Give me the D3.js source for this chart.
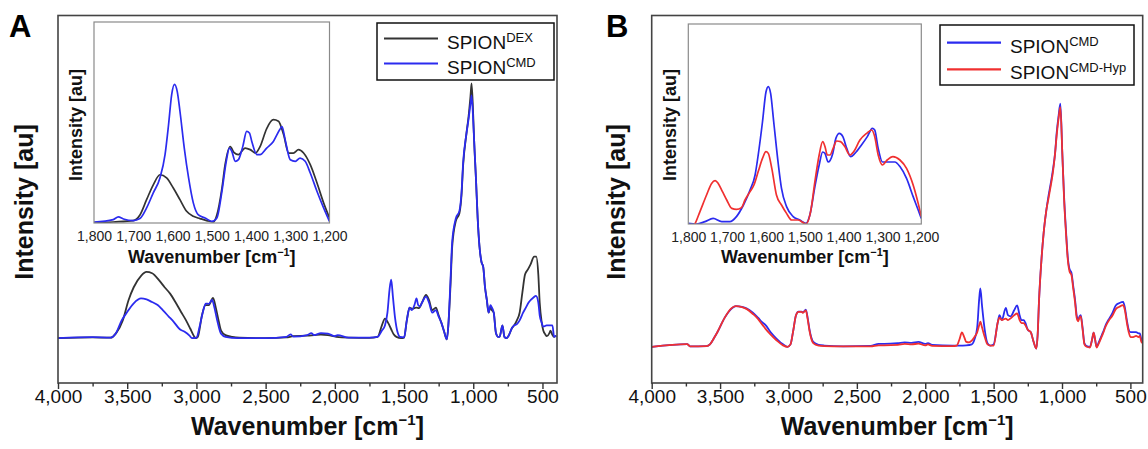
<!DOCTYPE html>
<html>
<head>
<meta charset="utf-8">
<script src="https://cdn.jsdelivr.net/npm/d3@7"></script>
<style>
  body { margin: 0; background: #fff; }
  svg { display: block; font-family: "Liberation Sans", Arial, sans-serif; }
</style>
</head>
<body>
<svg id="chart" width="1148" height="449"></svg>
<script>
// ---- data: [wavenumber cm-1, intensity au] ----
const majorTicks = [4000, 3500, 3000, 2500, 2000, 1500, 1000, 500];
const minorTicks = [3750, 3250, 2750, 2250, 1750, 1250, 750];
const insetTicks = [1800, 1700, 1600, 1500, 1400, 1300, 1200];

const dexA = [[4000,0],[3750,0.003],[3620,0.002],[3580,0.02],[3532,0.07],[3490,0.15],[3453,0.2],[3400,0.245],[3361,0.26],[3320,0.255],[3269,0.227],[3230,0.2],[3190,0.175],[3150,0.14],[3111,0.103],[3075,0.07],[3045,0.038],[3020,0.01],[3006,0],[2990,0.005],[2960,0.09],[2935,0.13],[2910,0.13],[2880,0.158],[2860,0.12],[2840,0.07],[2822,0.03],[2790,0.012],[2740,0.005],[2690,0.002],[2500,0],[2350,0.003],[2300,0.008],[2200,0.01],[2150,0.012],[2100,0.014],[2050,0.012],[1990,0.005],[1900,0.002],[1750,0.001],[1691,0.005],[1660,0.05],[1638,0.077],[1615,0.06],[1593,0.035],[1575,0.015],[1555,0.005],[1520,0],[1500,0.002],[1480,0.07],[1460,0.12],[1440,0.115],[1425,0.118],[1410,0.12],[1392,0.118],[1370,0.14],[1341,0.17],[1320,0.15],[1296,0.11],[1270,0.12],[1250,0.09],[1230,0.06],[1210,0.025],[1191,-0.005],[1180,0.05],[1165,0.2],[1152,0.36],[1126,0.46],[1100,0.49],[1085,0.56],[1073,0.68],[1050,0.8],[1034,0.87],[1020,0.95],[1012,1.0],[1000,0.87],[994,0.78],[980,0.62],[968,0.47],[955,0.36],[941,0.3],[928,0.28],[915,0.2],[902,0.15],[889,0.1],[876,0.12],[865,0.11],[852,0.1],[836,0.02],[820,0.005],[810,0.005],[789,0.05],[775,0.005],[760,0],[744,0.01],[720,0.04],[705,0.05],[685,0.07],[665,0.1],[645,0.18],[626,0.25],[605,0.27],[586,0.29],[560,0.32],[545,0.32],[530,0.25],[520,0.14],[505,0.06],[494,0.03],[480,0.015],[468,0.008],[450,0.02],[442,0.03],[430,0.015],[416,0.005],[400,0.01]];

const cmdA = [[4000,0],[3750,0.004],[3620,0.002],[3584,0.017],[3540,0.07],[3506,0.098],[3453,0.137],[3400,0.156],[3360,0.152],[3321,0.142],[3280,0.13],[3243,0.11],[3200,0.085],[3164,0.064],[3120,0.035],[3085,0.025],[3050,0.01],[3032,0],[3000,0.002],[2975,0.05],[2950,0.11],[2932,0.136],[2910,0.135],[2887,0.15],[2870,0.12],[2850,0.07],[2822,0.017],[2790,0.005],[2700,0],[2500,0],[2350,0.005],[2320,0.015],[2300,0.006],[2200,0.012],[2170,0.02],[2150,0.012],[2100,0.02],[2050,0.018],[2000,0.008],[1980,0.012],[1900,0.002],[1750,0.002],[1691,0.005],[1660,0.03],[1638,0.05],[1620,0.1],[1605,0.19],[1593,0.23],[1580,0.16],[1565,0.08],[1545,0.02],[1530,0.005],[1500,0.003],[1480,0.07],[1460,0.12],[1445,0.11],[1425,0.13],[1410,0.156],[1398,0.13],[1385,0.125],[1370,0.14],[1341,0.163],[1320,0.14],[1296,0.1],[1270,0.11],[1250,0.085],[1230,0.06],[1210,0.025],[1191,-0.005],[1180,0.05],[1165,0.22],[1152,0.38],[1126,0.47],[1100,0.5],[1085,0.57],[1073,0.69],[1050,0.8],[1034,0.86],[1020,0.92],[1012,0.953],[1000,0.85],[994,0.78],[980,0.62],[968,0.47],[955,0.36],[941,0.3],[928,0.28],[915,0.2],[902,0.15],[889,0.1],[876,0.13],[865,0.12],[852,0.1],[836,0.02],[820,0.005],[810,0.005],[789,0.05],[775,0.005],[760,0],[744,0.01],[720,0.04],[705,0.05],[685,0.055],[665,0.07],[640,0.1],[620,0.12],[600,0.14],[565,0.16],[547,0.166],[530,0.14],[520,0.09],[505,0.06],[494,0.045],[470,0.05],[440,0.05],[428,0.05],[416,0.005],[400,0.01]];

const cmdB = [[4000,0],[3741,0.011],[3720,0.002],[3600,0.003],[3574,0.01],[3540,0.04],[3520,0.06],[3466,0.12],[3420,0.155],[3385,0.167],[3340,0.164],[3304,0.157],[3260,0.14],[3223,0.12],[3190,0.1],[3169,0.09],[3130,0.06],[3088,0.034],[3040,0.01],[3007,0],[2985,0.01],[2967,0.06],[2945,0.13],[2927,0.145],[2905,0.145],[2894,0.142],[2873,0.153],[2860,0.12],[2846,0.07],[2819,0.02],[2780,0.008],[2738,0.005],[2600,0.002],[2400,0.004],[2340,0.012],[2300,0.012],[2200,0.015],[2150,0.018],[2100,0.016],[2050,0.02],[2000,0.012],[1980,0.015],[1950,0.008],[1800,0.005],[1750,0.005],[1700,0.006],[1660,0.01],[1640,0.03],[1620,0.08],[1605,0.2],[1597,0.24],[1585,0.17],[1565,0.07],[1545,0.015],[1524,0.005],[1500,0.01],[1470,0.1],[1457,0.13],[1440,0.11],[1411,0.16],[1395,0.13],[1376,0.125],[1350,0.15],[1328,0.17],[1310,0.13],[1296,0.11],[1280,0.11],[1269,0.1],[1250,0.07],[1228,0.06],[1210,0.025],[1188,-0.007],[1178,0.05],[1168,0.19],[1150,0.36],[1134,0.47],[1115,0.56],[1099,0.62],[1080,0.68],[1066,0.73],[1050,0.8],[1039,0.88],[1025,0.95],[1012,1.0],[998,0.8],[985,0.62],[970,0.47],[958,0.37],[945,0.32],[931,0.305],[918,0.25],[904,0.19],[893,0.13],[882,0.11],[872,0.125],[863,0.13],[850,0.08],[836,0.014],[820,0.003],[796,0],[780,0.03],[769,0.058],[758,0.03],[747,0],[730,0.02],[715,0.04],[700,0.06],[680,0.09],[661,0.11],[630,0.14],[607,0.17],[580,0.18],[553,0.185],[540,0.16],[526,0.11],[512,0.07],[499,0.06],[480,0.06],[458,0.06],[440,0.055],[431,0.055],[420,0.03],[410,0.02]];

const hypB = [[4000,0],[3741,0.011],[3720,0.002],[3600,0.003],[3574,0.01],[3540,0.04],[3520,0.06],[3466,0.12],[3420,0.157],[3385,0.167],[3340,0.163],[3304,0.155],[3260,0.135],[3223,0.115],[3190,0.09],[3169,0.075],[3130,0.05],[3088,0.027],[3040,0.006],[3007,0],[2985,0.01],[2967,0.06],[2945,0.13],[2927,0.144],[2905,0.144],[2894,0.14],[2873,0.15],[2860,0.115],[2846,0.065],[2819,0.015],[2780,0.005],[2738,0.003],[2600,0.002],[2400,0.002],[2340,0.006],[2300,0.006],[2200,0.008],[2150,0.012],[2100,0.01],[2050,0.013],[2000,0.006],[1980,0.01],[1950,0.004],[1800,0.003],[1770,0.005],[1750,0.03],[1732,0.059],[1715,0.04],[1700,0.02],[1680,0.018],[1660,0.025],[1640,0.04],[1620,0.06],[1605,0.09],[1597,0.103],[1585,0.08],[1565,0.04],[1545,0.01],[1524,0.005],[1500,0.005],[1470,0.1],[1457,0.12],[1440,0.11],[1411,0.116],[1395,0.11],[1376,0.117],[1350,0.13],[1328,0.137],[1310,0.11],[1296,0.097],[1280,0.097],[1269,0.09],[1250,0.07],[1228,0.06],[1210,0.025],[1188,-0.007],[1178,0.05],[1168,0.19],[1150,0.36],[1134,0.47],[1115,0.56],[1099,0.61],[1080,0.67],[1066,0.72],[1050,0.8],[1039,0.87],[1025,0.94],[1012,0.986],[998,0.8],[985,0.61],[970,0.46],[958,0.36],[945,0.31],[931,0.295],[918,0.24],[904,0.18],[893,0.12],[882,0.105],[872,0.12],[863,0.125],[850,0.075],[836,0.01],[820,0],[796,-0.003],[780,0.03],[769,0.058],[758,0.03],[747,-0.003],[730,0.015],[715,0.035],[700,0.055],[680,0.085],[661,0.105],[630,0.13],[607,0.155],[580,0.165],[553,0.171],[540,0.15],[526,0.1],[512,0.06],[499,0.04],[480,0.04],[458,0.045],[440,0.04],[431,0.045],[420,0.02],[410,0.015]];

const dexInsetA = [[1800,0],[1751,0.005],[1700,0.012],[1683,0.04],[1666,0.116],[1649,0.19],[1632,0.24],[1615,0.224],[1598,0.174],[1581,0.116],[1564,0.058],[1547,0.033],[1530,0.022],[1513,0.012],[1496,0.005],[1487,0.04],[1474,0.174],[1466,0.29],[1453,0.38],[1443,0.35],[1432,0.34],[1415,0.373],[1402,0.365],[1389,0.348],[1377,0.38],[1360,0.47],[1343,0.514],[1330,0.506],[1317,0.44],[1304,0.348],[1292,0.348],[1279,0.365],[1266,0.348],[1249,0.29],[1232,0.2],[1215,0.1],[1200,0.025]];

const cmdInsetA = [[1800,0.005],[1751,0.017],[1738,0.03],[1725,0.02],[1700,0.012],[1683,0.022],[1666,0.075],[1649,0.15],[1632,0.224],[1619,0.34],[1610,0.49],[1602,0.64],[1595,0.69],[1588,0.655],[1581,0.556],[1570,0.373],[1559,0.224],[1547,0.1],[1534,0.04],[1517,0.025],[1500,0.008],[1487,0.025],[1474,0.158],[1463,0.307],[1455,0.373],[1449,0.357],[1440,0.307],[1432,0.315],[1421,0.38],[1411,0.456],[1404,0.448],[1398,0.406],[1385,0.34],[1377,0.34],[1360,0.373],[1343,0.406],[1327,0.464],[1321,0.48],[1313,0.415],[1300,0.315],[1287,0.307],[1275,0.323],[1262,0.307],[1249,0.249],[1232,0.158],[1215,0.075],[1200,0.008]];

const cmdInsetB = [[1800,0.003],[1779,0],[1757,0.012],[1736,0.028],[1714,0.012],[1693,0.012],[1676,0.037],[1658,0.095],[1641,0.17],[1628,0.245],[1620,0.345],[1609,0.51],[1600,0.66],[1594,0.687],[1588,0.653],[1580,0.51],[1568,0.295],[1560,0.178],[1547,0.087],[1530,0.037],[1513,0.02],[1497,0.003],[1487,0.045],[1474,0.187],[1463,0.295],[1454,0.36],[1448,0.353],[1440,0.31],[1428,0.353],[1420,0.428],[1411,0.453],[1402,0.437],[1392,0.378],[1382,0.337],[1371,0.353],[1354,0.395],[1339,0.437],[1326,0.478],[1320,0.47],[1311,0.378],[1300,0.31],[1285,0.31],[1268,0.31],[1255,0.287],[1238,0.228],[1221,0.137],[1208,0.07],[1200,0.028]];

const hypInsetB = [[1790,-0.02],[1783,0],[1770,0.062],[1753,0.145],[1740,0.203],[1731,0.217],[1723,0.203],[1712,0.162],[1701,0.12],[1688,0.078],[1676,0.073],[1663,0.082],[1654,0.12],[1641,0.162],[1631,0.195],[1620,0.262],[1609,0.328],[1600,0.362],[1594,0.353],[1585,0.278],[1573,0.145],[1560,0.095],[1547,0.053],[1534,0.02],[1517,0.02],[1497,0],[1485,0.062],[1474,0.212],[1463,0.345],[1454,0.412],[1448,0.387],[1442,0.345],[1435,0.345],[1427,0.378],[1418,0.415],[1408,0.412],[1397,0.387],[1384,0.345],[1374,0.362],[1358,0.42],[1341,0.453],[1328,0.47],[1320,0.437],[1311,0.345],[1300,0.295],[1288,0.32],[1273,0.337],[1255,0.32],[1238,0.278],[1221,0.195],[1208,0.103],[1200,0.037]];

const BLACK = "#333333";
const BLUE = "#2b2bef";
const RED = "#f03030";

const svg = d3.select("#chart");
const fmt = d3.format(",");

// axis title with superscript -1
function waveLabel(g, x, y, size) {
  const t = g.append("text")
    .attr("x", x).attr("y", y)
    .attr("text-anchor", "middle")
    .attr("font-weight", "bold")
    .attr("font-size", size)
    .attr("fill", "#111");
  t.append("tspan").text("Wavenumber [cm");
  t.append("tspan").attr("font-size", size * 0.6).attr("dy", -size * 0.4).text("\u22121");
  t.append("tspan").attr("dy", size * 0.4).text("]");
}

function yLabel(g, x, y, size) {
  g.append("text")
    .attr("transform", `translate(${x},${y}) rotate(-90)`)
    .attr("text-anchor", "middle")
    .attr("font-weight", "bold")
    .attr("font-size", size)
    .attr("fill", "#111")
    .text("Intensity [au]");
}

function drawPanel(p) {
  const g = svg.append("g");
  const id = "clip" + p.letter;

  // main scales
  const x = d3.scaleLinear().domain([4000, p.xEnd]).range([p.left, p.right]);
  const y = d3.scaleLinear().domain(p.yDomain).range([p.bottom, p.top]);
  const line = d3.line().x(d => x(d[0])).y(d => y(d[1])).curve(d3.curveMonotoneX);

  g.append("clipPath").attr("id", id)
    .append("rect").attr("x", p.left).attr("y", p.top)
    .attr("width", p.right - p.left).attr("height", p.bottom - p.top);

  p.series.forEach(s => {
    g.append("path").datum(s.data)
      .attr("clip-path", `url(#${id})`)
      .attr("d", line)
      .attr("fill", "none")
      .attr("stroke", s.color)
      .attr("stroke-width", 1.8)
      .attr("stroke-linejoin", "round");
  });

  // frame
  g.append("rect")
    .attr("x", p.left).attr("y", p.top)
    .attr("width", p.right - p.left).attr("height", p.bottom - p.top)
    .attr("fill", "none").attr("stroke", "#444").attr("stroke-width", 1.6);

  // x axis
  const ax = g.append("g").attr("transform", `translate(0,${p.bottom})`)
    .call(d3.axisBottom(x).tickValues(majorTicks).tickSize(6).tickFormat(fmt));
  ax.select(".domain").remove();
  ax.selectAll("line").attr("stroke", "#333").attr("stroke-width", 1.4);
  ax.selectAll("text").attr("y", 19.5).attr("dy", 0)
    .attr("font-size", 19).attr("font-family", "Liberation Sans, Arial, sans-serif").attr("fill", "#111");

  const mx = g.append("g").attr("transform", `translate(0,${p.bottom})`)
    .call(d3.axisBottom(x).tickValues(minorTicks).tickSize(3.5).tickFormat(""));
  mx.select(".domain").remove();
  mx.selectAll("line").attr("stroke", "#333").attr("stroke-width", 1.4);

  waveLabel(g, (p.left + p.right) / 2, 435, 25);
  yLabel(g, p.yLabelX, 202, 25);

  g.append("text").attr("x", p.letterX).attr("y", 37)
    .attr("font-weight", "bold").attr("font-size", 31).attr("fill", "#000")
    .text(p.letter);

  // inset
  const ins = p.inset;
  const ix = d3.scaleLinear().domain([1800, 1200]).range([ins.left, ins.right]);
  const iy = d3.scaleLinear().domain([0, 1]).range([ins.bottom, ins.top]);
  const iline = d3.line().x(d => ix(d[0])).y(d => iy(d[1])).curve(d3.curveMonotoneX);
  const iid = "iclip" + p.letter;

  g.append("rect")
    .attr("x", ins.left).attr("y", ins.top)
    .attr("width", ins.right - ins.left).attr("height", ins.bottom - ins.top)
    .attr("fill", "#fff");
  g.append("clipPath").attr("id", iid)
    .append("rect").attr("x", ins.left).attr("y", ins.top)
    .attr("width", ins.right - ins.left).attr("height", ins.bottom - ins.top);

  ins.series.forEach(s => {
    g.append("path").datum(s.data)
      .attr("clip-path", `url(#${iid})`)
      .attr("d", iline)
      .attr("fill", "none")
      .attr("stroke", s.color)
      .attr("stroke-width", 1.7)
      .attr("stroke-linejoin", "round");
  });
  g.append("rect")
    .attr("x", ins.left).attr("y", ins.top)
    .attr("width", ins.right - ins.left).attr("height", ins.bottom - ins.top)
    .attr("fill", "none").attr("stroke", "#8a8a8a").attr("stroke-width", 1.2);

  const iax = g.append("g").attr("transform", `translate(0,${ins.bottom})`)
    .call(d3.axisBottom(ix).tickValues(insetTicks).tickSize(0).tickFormat(fmt));
  iax.select(".domain").remove();
  iax.selectAll("text").attr("y", 18).attr("dy", 0)
    .attr("font-size", 14).attr("font-family", "Liberation Sans, Arial, sans-serif").attr("fill", "#222");

  waveLabel(g, (ins.left + ins.right) / 2, 263, 18);
  yLabel(g, ins.yLabelX, 125, 18);

  // legend
  const lg = p.legend;
  g.append("rect").attr("x", lg.x).attr("y", lg.y).attr("width", lg.w).attr("height", lg.h)
    .attr("fill", "#fff").attr("stroke", "#111").attr("stroke-width", 1.5);
  lg.items.forEach((it, i) => {
    const ly = lg.y + lg.first + i * lg.step;
    g.append("line").attr("x1", lg.x + 7).attr("x2", lg.x + 61)
      .attr("y1", ly).attr("y2", ly)
      .attr("stroke", it.color).attr("stroke-width", 2.2);
    const t = g.append("text").attr("x", lg.x + 70).attr("y", ly + 10)
      .attr("font-size", 19).attr("fill", "#111");
    t.append("tspan").text("SPION");
    t.append("tspan").attr("font-size", 13).attr("dy", -7).text(it.sup);
  });
}

drawPanel({
  letter: "A", letterX: 9, yLabelX: 33,
  left: 58, right: 557, top: 15.5, bottom: 383,
  xEnd: 395, yDomain: [-0.176, 1.267],
  series: [{ data: dexA, color: BLACK }, { data: cmdA, color: BLUE }],
  inset: {
    left: 94, right: 329.5, top: 22, bottom: 223, yLabelX: 82,
    series: [{ data: dexInsetA, color: BLACK }, { data: cmdInsetA, color: BLUE }]
  },
  legend: {
    x: 377, y: 23, w: 177, h: 57, first: 15.5, step: 25,
    items: [{ sup: "DEX", color: BLACK }, { sup: "CMD", color: BLUE }]
  }
});

drawPanel({
  letter: "B", letterX: 606, yLabelX: 625,
  left: 651.7, right: 1142.7, top: 15.5, bottom: 383,
  xEnd: 410, yDomain: [-0.149, 1.363],
  series: [{ data: cmdB, color: BLUE }, { data: hypB, color: RED }],
  inset: {
    left: 688.3, right: 921.3, top: 24, bottom: 224, yLabelX: 676,
    series: [{ data: cmdInsetB, color: BLUE }, { data: hypInsetB, color: RED }]
  },
  legend: {
    x: 940, y: 25, w: 194, h: 60, first: 17.7, step: 26.6,
    items: [{ sup: "CMD", color: BLUE }, { sup: "CMD-Hyp", color: RED }]
  }
});
</script>
</body>
</html>
